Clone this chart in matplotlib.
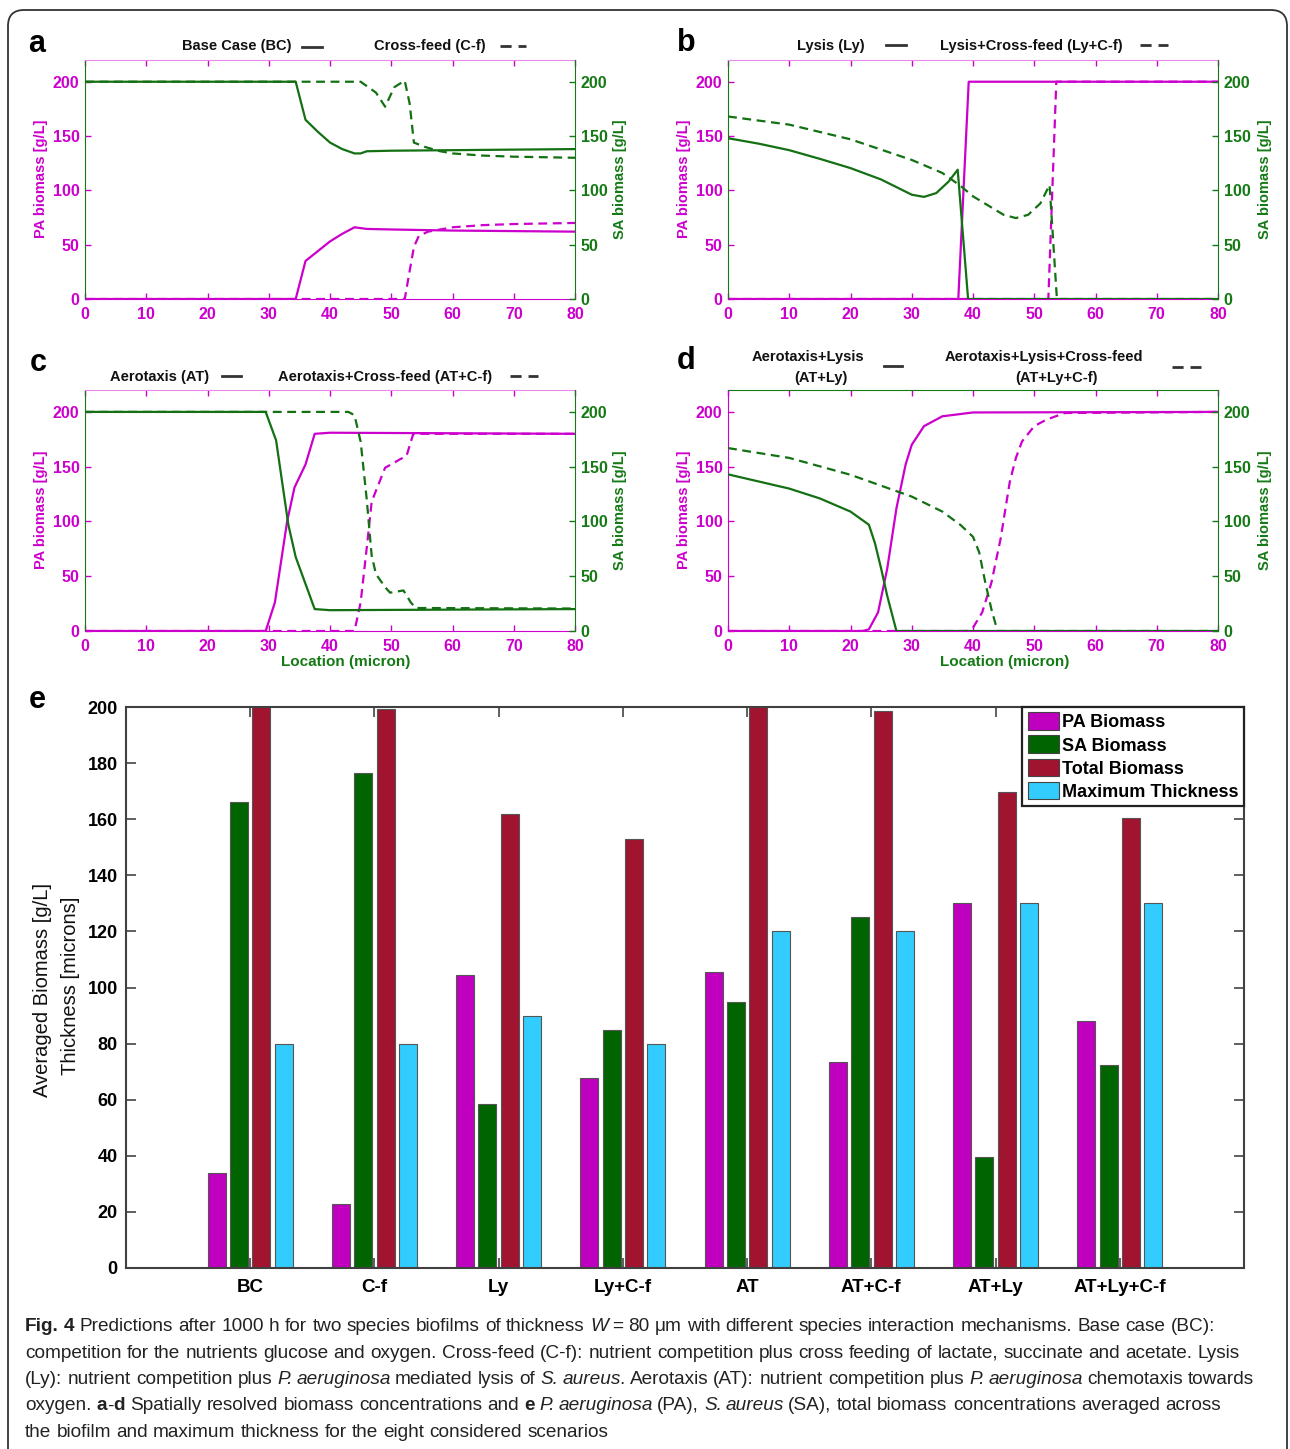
import re
import numpy as np
import matplotlib
matplotlib.use('Agg')
import matplotlib.pyplot as plt
from matplotlib.lines import Line2D
from matplotlib.patches import FancyBboxPatch

plt.rcParams['font.family'] = ['Liberation Sans', 'DejaVu Sans']

# ---------------- data: panel a ----------------
a_x_pa_bc = [0, 34.4, 36, 38, 40, 42, 44, 46, 50, 60, 80]
a_pa_bc = [0, 0, 35, 44, 53, 60, 66, 64.5, 64, 63, 62]
a_x_sa_bc = [0, 34.4, 36, 38, 40, 42, 44, 45, 46, 50, 60, 80]
a_sa_bc = [200, 200, 165, 154, 144, 138, 134, 134, 136, 136.5, 137, 138]
a_x_pa_cf = [0, 52.2, 53.7, 54.5, 56, 60, 65, 70, 80]
a_pa_cf = [0, 0, 48, 58, 62, 66, 68, 69, 70]
a_x_sa_cf = [0, 45, 47.5, 49, 50.5, 52.2, 53, 53.7, 55.5, 58, 60, 65, 70, 80]
a_sa_cf = [200, 200, 190, 177, 195, 201, 180, 144, 140, 136, 134, 132, 131, 130]

# ---------------- data: panel b ----------------
b_x_pa_ly = [0, 37.6, 39.3, 80]
b_pa_ly = [0, 0, 200, 200]
b_x_sa_ly = [0, 5, 10, 15, 20, 25, 30, 32, 34, 36, 37.5, 39.2, 80]
b_sa_ly = [148, 143, 137, 129, 120.5, 110, 96, 94, 97.5, 108, 119, 0, 0]
b_x_pa_lycf = [0, 52.3, 53.6, 80]
b_pa_lycf = [0, 0, 200, 200]
b_x_sa_lycf = [0, 10, 20, 30, 35, 38, 40, 45, 47, 49, 51, 52.5, 53.7, 80]
b_sa_lycf = [168, 160.5, 147, 128, 116, 104, 94.5, 77.5, 74.5, 77.5, 88, 105, 0, 0]

# ---------------- data: panel c ----------------
c_x_pa_at = [0, 29.5, 31, 33, 34.2, 36, 37.5, 40, 80]
c_pa_at = [0, 0, 26, 100, 131, 152, 180, 181, 180]
c_x_sa_at = [0, 29.5, 31.2, 33.2, 34.4, 37.5, 40, 80]
c_sa_at = [200, 200, 174, 97, 67.5, 20, 19, 20]
c_x_pa_atcf = [0, 44, 45, 46.1, 46.8, 47.5, 49, 51.2, 52.5, 53.6, 80]
c_pa_atcf = [0, 0, 26, 81, 118, 128, 149, 156, 160, 180, 180]
c_x_sa_atcf = [0, 43, 44, 45, 46, 46.8, 47.5, 49, 49.8, 52, 53.2, 54, 80]
c_sa_atcf = [200, 200, 197, 173, 120, 69, 52, 40, 35, 37, 26, 21, 20.5]

# ---------------- data: panel d ----------------
d_x_pa_atly = [0, 22, 23, 24.5, 26, 27.5, 29, 30, 32, 35, 40, 80]
d_pa_atly = [0, 0, 1.5, 17, 57, 112, 152, 170, 187, 196, 199.5, 200]
d_x_sa_atly = [0, 5, 10, 15, 20, 23, 24, 25, 26, 27.5, 80]
d_sa_atly = [143, 136.5, 130, 121, 109, 97, 80, 57, 32, 0, 0]
d_x_pa_atlycf = [0, 39, 40, 41.5, 43, 44.5, 46, 47, 48, 50, 52, 55, 80]
d_pa_atlycf = [0, 0, 3, 17, 44, 84, 136, 158, 173, 187, 193, 199, 200]
d_x_sa_atlycf = [0, 10, 20, 30, 35, 38, 40, 41, 42, 43, 44, 80]
d_sa_atlycf = [167, 158, 142.6, 122.7, 109, 96.6, 86, 72, 44.5, 20, 0, 0]

x_ticks = [0, 10, 20, 30, 40, 50, 60, 70, 80]
y_ticks = [0, 50, 100, 150, 200]

# ---------------- data: panel e ----------------
scenarios = ['BC', 'C-f', 'Ly', 'Ly+C-f', 'AT', 'AT+C-f', 'AT+Ly', 'AT+Ly+C-f']
pa_biomass = [34, 22.8, 104.4, 67.9, 105.4, 73.5, 130, 88]
sa_biomass = [166, 176.6, 58.5, 84.8, 95, 125, 39.7, 72.5]
total_biomass = [200, 199.4, 162, 153, 200.4, 198.5, 169.7, 160.5]
max_thickness = [80, 80, 90, 80, 120, 120, 130, 130]
bar_series = ['PA Biomass', 'SA Biomass', 'Total Biomass', 'Maximum Thickness']
e_y_ticks = [0, 20, 40, 60, 80, 100, 120, 140, 160, 180, 200]

# ---------------- style ----------------
W, H = 1290, 1449
MAG = '#CC00CC'
MAG_LIGHT = '#E68AE6'
GRN = '#157A15'
LINE_GRN = '#137013'
BAR_COLS = ['#BF00BF', '#006400', '#A11430', '#33CCFF']

fig = plt.figure(figsize=(W / 100, H / 100), dpi=100)


def axpos(l, t, r, b):
    return [l / W, 1 - b / H, (r - l) / W, (b - t) / H]


def fx(x):
    return x / W


def fy(y):
    return 1 - y / H


def legend_line(x0, x1, y, dashed):
    ln = Line2D([fx(x0), fx(x1)], [fy(y), fy(y)], transform=fig.transFigure,
                color='#333333', lw=2.0, linestyle=(0, (4, 2.5)) if dashed else '-')
    fig.lines.append(ln)


def make_panel(pos, curves, left_col, top_col):
    ax = fig.add_axes(pos)
    ax2 = ax.twinx()
    for xs, ys, which, dashed in curves:
        tgt = ax if which == 'pa' else ax2
        col = MAG if which == 'pa' else LINE_GRN
        tgt.plot(xs, ys, color=col, lw=1.6,
                 linestyle=(0, (4, 2.5)) if dashed else '-')
    for a in (ax, ax2):
        a.set_xlim(0, 80)
        a.set_ylim(0, 220)
    ax.set_xticks(x_ticks)
    ax.set_yticks(y_ticks)
    ax2.set_yticks(y_ticks)
    ax.tick_params(axis='x', direction='in', colors=MAG, labelsize=11.5, top=True,
                   length=4, width=1, pad=6)
    ax.tick_params(axis='y', direction='in', colors=MAG, labelsize=11.5,
                   length=4, width=1, pad=4)
    ax2.tick_params(axis='y', direction='in', colors=GRN, labelsize=11.5,
                    length=4, width=1, pad=4)
    for lab in ax.get_xticklabels() + ax.get_yticklabels() + ax2.get_yticklabels():
        lab.set_fontweight('bold')
    ax.spines['left'].set_color(left_col)
    ax.spines['top'].set_color(top_col)
    ax.spines['bottom'].set_color(MAG)
    ax.spines['right'].set_visible(False)
    for s in ('left', 'top', 'bottom'):
        ax2.spines[s].set_visible(False)
    ax2.spines['right'].set_color(GRN)
    return ax, ax2


# panel a
make_panel(axpos(85, 60, 575, 299),
           [(a_x_pa_bc, a_pa_bc, 'pa', False), (a_x_pa_cf, a_pa_cf, 'pa', True),
            (a_x_sa_bc, a_sa_bc, 'sa', False), (a_x_sa_cf, a_sa_cf, 'sa', True)],
           GRN, MAG_LIGHT)
# panel b
make_panel(axpos(728, 60, 1218, 299),
           [(b_x_pa_ly, b_pa_ly, 'pa', False), (b_x_pa_lycf, b_pa_lycf, 'pa', True),
            (b_x_sa_ly, b_sa_ly, 'sa', False), (b_x_sa_lycf, b_sa_lycf, 'sa', True)],
           GRN, MAG_LIGHT)
# panel c
make_panel(axpos(85, 390, 575, 631),
           [(c_x_pa_at, c_pa_at, 'pa', False), (c_x_pa_atcf, c_pa_atcf, 'pa', True),
            (c_x_sa_at, c_sa_at, 'sa', False), (c_x_sa_atcf, c_sa_atcf, 'sa', True)],
           GRN, MAG_LIGHT)
# panel d
make_panel(axpos(728, 390, 1218, 631),
           [(d_x_pa_atly, d_pa_atly, 'pa', False), (d_x_pa_atlycf, d_pa_atlycf, 'pa', True),
            (d_x_sa_atly, d_sa_atly, 'sa', False), (d_x_sa_atlycf, d_sa_atlycf, 'sa', True)],
           MAG, GRN)

# axis labels for panels
for xl, xr, yc in [(41, 620, 179), (684, 1265, 179), (41, 620, 510), (684, 1265, 510)]:
    fig.text(fx(xl), fy(yc), 'PA biomass [g/L]', rotation=90, color=MAG, fontsize=10.5,
             fontweight='bold', ha='center', va='center')
    fig.text(fx(xr), fy(yc), 'SA biomass [g/L]', rotation=90, color=GRN, fontsize=10.5,
             fontweight='bold', ha='center', va='center')
for xc in (346, 1005):
    fig.text(fx(xc), fy(662), 'Location (micron)', color=GRN, fontsize=11,
             fontweight='bold', ha='center', va='center')

# panel labels
for lab, x, y in [('a', 37, 44), ('b', 686, 43), ('c', 38, 363), ('d', 686, 361), ('e', 37, 700)]:
    fig.text(fx(x), fy(y), lab, fontsize=22, fontweight='bold', ha='center', va='center')

# in-panel legends / titles
TK = dict(fontsize=10.5, fontweight='bold', va='center', color='#111111')
fig.text(fx(237), fy(46), 'Base Case (BC)', ha='center', **TK)
legend_line(302, 322, 47, False)
fig.text(fx(430), fy(46), 'Cross-feed (C-f)', ha='center', **TK)
legend_line(500, 526, 46, True)

fig.text(fx(831), fy(46), 'Lysis (Ly)', ha='center', **TK)
legend_line(886, 906, 45, False)
fig.text(fx(1031), fy(46), 'Lysis+Cross-feed (Ly+C-f)', ha='center', **TK)
legend_line(1140, 1168, 45, True)

fig.text(fx(160), fy(377), 'Aerotaxis (AT)', ha='center', **TK)
legend_line(222, 241, 376, False)
fig.text(fx(385), fy(377), 'Aerotaxis+Cross-feed (AT+C-f)', ha='center', **TK)
legend_line(510, 538, 376, True)

fig.text(fx(808), fy(357), 'Aerotaxis+Lysis', ha='center', **TK)
fig.text(fx(821), fy(378), '(AT+Ly)', ha='center', **TK)
legend_line(884, 902, 366, False)
fig.text(fx(1044), fy(357), 'Aerotaxis+Lysis+Cross-feed', ha='center', **TK)
fig.text(fx(1057), fy(378), '(AT+Ly+C-f)', ha='center', **TK)
legend_line(1172, 1201, 367, True)

# ---------------- panel e ----------------
axe = fig.add_axes(axpos(126, 707, 1244, 1268))
pos = np.arange(1, len(scenarios) + 1)
width = 0.145
offsets = (np.arange(4) - 1.5) * 0.18
series = [pa_biomass, sa_biomass, total_biomass, max_thickness]
for i, (name, vals) in enumerate(zip(bar_series, series)):
    axe.bar(pos + offsets[i], vals, width, color=BAR_COLS[i], edgecolor='#555555',
            linewidth=0.8, label=name, zorder=2)
axe.set_xlim(0, 9)
axe.set_ylim(0, 200)
axe.set_xticks(pos)
axe.set_xticklabels(scenarios)
axe.set_yticks(e_y_ticks)
axe.tick_params(axis='x', direction='in', top=True, length=7, width=1.2,
                color='#444444', labelsize=13.5, pad=8)
axe.tick_params(axis='y', direction='in', right=True, length=7, width=1.2,
                color='#444444', labelsize=13, pad=6)
for lab in axe.get_xticklabels() + axe.get_yticklabels():
    lab.set_fontweight('bold')
for s in axe.spines.values():
    s.set_color('#404040')
    s.set_linewidth(1.5)
leg = axe.legend(loc='upper right', bbox_to_anchor=(1.0, 1.0), borderaxespad=0,
                 fancybox=False, edgecolor='#222222', framealpha=1,
                 prop={'weight': 'bold', 'size': 13}, handlelength=1.75,
                 handleheight=1.15, handletextpad=0.15, labelspacing=0.22,
                 borderpad=0.3)
leg.get_frame().set_linewidth(1.6)
for hnd in leg.legend_handles:
    hnd.set_edgecolor('#444444')
fig.text(fx(43), fy(990), 'Averaged Biomass [g/L]', rotation=90, fontsize=14.5,
         ha='center', va='center', color='#111111')
fig.text(fx(71), fy(986), 'Thickness [microns]', rotation=90, fontsize=14.5,
         ha='center', va='center', color='#111111')

# ---------------- frame ----------------
frame = FancyBboxPatch((0.08, -0.3), 12.79, 14.69,
                       boxstyle='round,pad=0,rounding_size=0.16',
                       transform=fig.dpi_scale_trans, fill=False,
                       edgecolor='#333333', lw=1.3)
fig.patches.append(frame)

# ---------------- caption ----------------
renderer = fig.canvas.get_renderer()
CAP_FAMILY = ['Liberation Sans', 'DejaVu Sans']


def style_kw(style):
    kw = {}
    if 'b' in style:
        kw['fontweight'] = 'bold'
    if 'i' in style:
        kw['fontstyle'] = 'italic'
    return kw


def text_width(s, size, style):
    t = fig.text(0, 0, s, fontsize=size, family=CAP_FAMILY, **style_kw(style))
    w = t.get_window_extent(renderer).width
    t.remove()
    return w


def runs_width(runs, size):
    sp = text_width('x x', size, '') - text_width('xx', size, '')
    w = 0
    for txt, style in runs:
        for tok in re.split(r'( +)', txt):
            if tok == '':
                continue
            if tok.strip() == '':
                w += sp * len(tok)
            else:
                w += text_width(tok, size, style) - (1.5 if 'i' in style else 0)
    return w


def draw_runs(x0, ybase, runs, size):
    sp = text_width('x x', size, '') - text_width('xx', size, '')
    x = x0
    for txt, style in runs:
        for tok in re.split(r'( +)', txt):
            if tok == '':
                continue
            if tok.strip() == '':
                x += sp * len(tok)
                continue
            t = fig.text(fx(x), fy(ybase), tok, fontsize=size, family=CAP_FAMILY,
                         va='baseline', ha='left', color='#222222', **style_kw(style))
            x += t.get_window_extent(renderer).width - (1.5 if 'i' in style else 0)


cap_lines = [
    [('Fig. 4', 'b'), (' Predictions after 1000 h for two species biofilms of thickness ', ''),
     ('W', 'i'), (' = 80 \u03bcm with different species interaction mechanisms. Base case (BC):', '')],
    [('competition for the nutrients glucose and oxygen. Cross-feed (C-f): nutrient competition '
      'plus cross feeding of lactate, succinate and acetate. Lysis', '')],
    [('(Ly): nutrient competition plus ', ''), ('P. aeruginosa', 'i'), (' mediated lysis of ', ''),
     ('S. aureus', 'i'), ('. Aerotaxis (AT): nutrient competition plus ', ''),
     ('P. aeruginosa', 'i'), (' chemotaxis towards', '')],
    [('oxygen. ', ''), ('a', 'b'), ('-', ''), ('d', 'b'),
     (' Spatially resolved biomass concentrations and ', ''), ('e', 'b'), (' ', ''),
     ('P. aeruginosa', 'i'), (' (PA), ', ''), ('S. aureus', 'i'),
     (' (SA), total biomass concentrations averaged across', '')],
    [('the biofilm and maximum thickness for the eight considered scenarios', '')],
]
cap_targets = [1240, 1248, 1253, 1200]

# choose size so that the longest lines fit the reference's widths
ratios = [t / runs_width(cap_lines[i], 12) for i, t in enumerate(cap_targets)]
cap_size = 12 * min(ratios)
for i, runs in enumerate(cap_lines):
    draw_runs(25, 1331 + i * 26.5, runs, cap_size)

fig.savefig('out.png', dpi=100)
